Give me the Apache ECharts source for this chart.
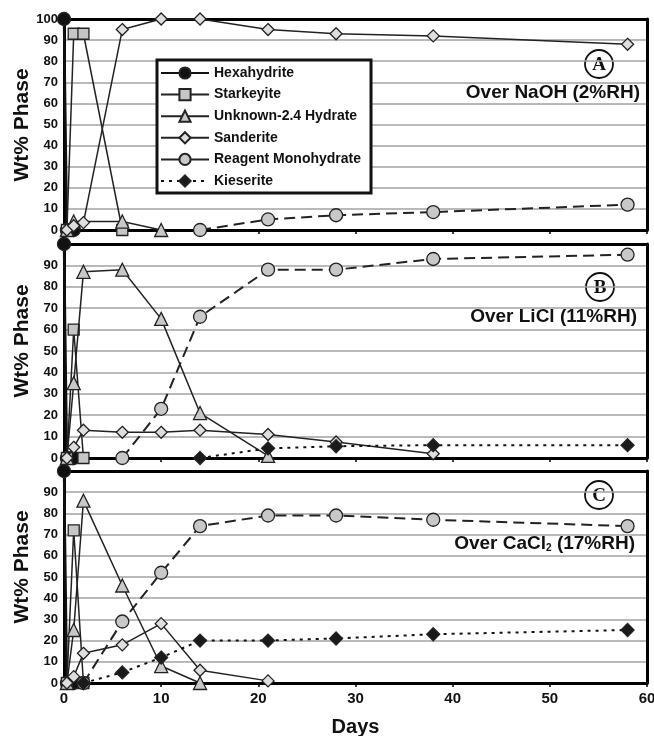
<!DOCTYPE html>
<html lang="en">
<head>
  <meta charset="UTF-8">
  <title>Wt% Phase vs Days</title>
  <style>
    html, body { margin: 0; padding: 0; background: #fff; }
    #chart { width: 654px; height: 736px; }
  </style>
</head>
<body>
<div id="chart"></div>
<script src="https://cdn.jsdelivr.net/npm/echarts@6/dist/echarts.min.js"></script>
<script>
  const names = ['Hexahydrite', 'Starkeyite', 'Unknown-2.4 Hydrate', 'Sanderite', 'Reagent Monohydrate', 'Kieserite'];

  // panel A - over NaOH (2%RH)
  const hexaA = [[0, 100], [0.3, 0], [1, 0]];
  const starkA = [[0.3, 0], [1, 93], [2, 93], [6, 0]];
  const unknownA = [[0.3, 0], [1, 4], [6, 4], [10, 0]];
  const sandA = [[0.3, 0], [1, 2], [2, 3.5], [6, 95], [10, 100], [14, 100], [21, 95], [28, 93], [38, 92], [58, 88]];
  const reagentA = [[14, 0], [21, 5], [28, 7], [38, 8.5], [58, 12]];
  const kieserA = [];

  // panel B - over LiCl (11%RH)
  const hexaB = [[0, 100], [0.3, 0], [1, 0]];
  const starkB = [[0.3, 0], [1, 60], [2, 0]];
  const unknownB = [[0.3, 0], [1, 35], [2, 87], [6, 88], [10, 65], [14, 21], [21, 1]];
  const sandB = [[0.3, 0], [1, 5], [2, 13], [6, 12], [10, 12], [14, 13], [21, 11], [28, 7.5], [38, 2]];
  const reagentB = [[6, 0], [10, 23], [14, 66], [21, 88], [28, 88], [38, 93], [58, 95]];
  const kieserB = [[14, 0], [21, 4.5], [28, 5.5], [38, 6], [58, 6]];

  // panel C - over CaCl2 (17%RH)
  const hexaC = [[0, 100], [0.3, 0], [1, 0]];
  const starkC = [[0.3, 0], [1, 72], [2, 0]];
  const unknownC = [[0.3, 0], [1, 25], [2, 86], [6, 46], [10, 8], [14, 0]];
  const sandC = [[0.3, 0], [1, 3], [2, 14], [6, 18], [10, 28], [14, 6], [21, 1]];
  const reagentC = [[2, 0], [6, 29], [10, 52], [14, 74], [21, 79], [28, 79], [38, 77], [58, 74]];
  const kieserC = [[2, 0], [6, 5], [10, 12], [14, 20], [21, 20], [28, 21], [38, 23], [58, 25]];

  const panels = [
    [hexaA, starkA, unknownA, sandA, reagentA, kieserA],
    [hexaB, starkB, unknownB, sandB, reagentB, kieserB],
    [hexaC, starkC, unknownC, sandC, reagentC, kieserC]
  ];

  // marker / line look for each phase
  const looks = [
    { symbol: 'circle', size: 13, fill: '#111', line: { color: '#111', width: 2.5, type: 'solid' } },
    { symbol: 'rect', size: 11, fill: '#c6c6c6', line: { color: '#222', width: 1.5, type: 'solid' } },
    { symbol: 'triangle', size: 13, fill: '#c8c8c8', line: { color: '#222', width: 1.5, type: 'solid' } },
    { symbol: 'diamond', size: 12, fill: '#dedede', line: { color: '#222', width: 1.5, type: 'solid' } },
    { symbol: 'circle', size: 13, fill: '#c8c8c8', line: { color: '#222', width: 2, type: [11, 6] } },
    { symbol: 'diamond', size: 13, fill: '#1a1a1a', line: { color: '#111', width: 2, type: [3, 5] } }
  ];

  const font = 'Liberation Sans, Arial, sans-serif';
  const grids = [
    { left: 64, right: 7, top: 19, height: 211 },
    { left: 64, right: 7, top: 244, height: 214 },
    { left: 64, right: 7, top: 471, height: 212 }
  ];
  const titleY = [125, 341, 567];

  const series = [];
  panels.forEach(function (sets, p) {
    sets.forEach(function (data, i) {
      const lk = looks[i];
      series.push({
        name: names[i],
        type: 'line',
        xAxisIndex: p,
        yAxisIndex: p,
        data: data,
        clip: false,
        symbol: lk.symbol,
        symbolSize: lk.size,
        itemStyle: { color: lk.fill, borderColor: '#222', borderWidth: 1.3 },
        lineStyle: lk.line,
        emphasis: { disabled: true },
        z: 4 + i
      });
    });
  });

  const frameLine = { show: true, onZero: false, lineStyle: { color: '#000', width: 3 } };

  const xAxes = grids.map(function (g, p) {
    return {
      type: 'value', gridIndex: p, min: 0, max: 60, interval: 10,
      axisLine: frameLine,
      axisTick: { show: true, length: 4, lineStyle: { color: '#000', width: 1.5 } },
      axisLabel: { show: p === 2, fontFamily: font, fontWeight: 'bold', fontSize: 15, color: '#111', margin: 8 },
      splitLine: { show: false },
      name: p === 2 ? 'Days' : '',
      nameLocation: 'middle',
      nameGap: 34,
      nameTextStyle: { fontFamily: font, fontWeight: 'bold', fontSize: 20, color: '#111' },
      z: 3
    };
  });
  // top edge of every box
  grids.forEach(function (g, p) {
    xAxes.push({
      type: 'value', gridIndex: p, position: 'top', min: 0, max: 60, interval: 10,
      axisLine: frameLine, axisTick: { show: false }, axisLabel: { show: false }, splitLine: { show: false }, z: 3
    });
  });

  const yAxes = grids.map(function (g, p) {
    return {
      type: 'value', gridIndex: p, min: 0, max: 100, interval: 10,
      axisLine: frameLine,
      axisTick: { show: false },
      axisLabel: {
        fontFamily: font, fontWeight: 'bold', fontSize: 13, color: '#111', margin: 6,
        formatter: function (v) { return (v === 100 && p > 0) ? '' : v; }
      },
      splitLine: { show: true, lineStyle: { color: '#a2a2a2', width: 1.5 } },
      z: 3
    };
  });
  // right edge of every box
  grids.forEach(function (g, p) {
    yAxes.push({
      type: 'value', gridIndex: p, position: 'right', min: 0, max: 100, interval: 10,
      axisLine: frameLine, axisTick: { show: false }, axisLabel: { show: false }, splitLine: { show: false }, z: 3
    });
  });

  function circled(letter, cx, cy) {
    return {
      type: 'group', x: cx, y: cy, z: 20,
      children: [
        { type: 'circle', shape: { cx: 0, cy: 0, r: 14 }, style: { fill: '#fff', stroke: '#111', lineWidth: 1.8 } },
        { type: 'text', x: 0, y: 1, style: { text: letter, font: 'bold 19px "Liberation Serif", serif', fill: '#111', align: 'center', verticalAlign: 'middle' } }
      ]
    };
  }

  function note(text, right, cy) {
    return {
      type: 'text', right: right, top: cy - 11, z: 20,
      style: { text: text, font: 'bold 19px "Liberation Sans", Arial, sans-serif', fill: '#111' }
    };
  }

  function yTitle(cy) {
    return {
      type: 'text', x: 22, y: cy, rotation: Math.PI / 2, z: 20,
      style: { text: 'Wt% Phase', font: 'bold 21px "Liberation Sans", Arial, sans-serif', fill: '#111', align: 'center', verticalAlign: 'middle' }
    };
  }

  const option = {
    backgroundColor: '#fff',
    animation: false,
    grid: grids.map(function (g) {
      return Object.assign({ show: true, borderWidth: 0, backgroundColor: '#fff', outerBoundsMode: 'none', containLabel: false }, g);
    }),
    xAxis: xAxes,
    yAxis: yAxes,
    legend: {
      orient: 'vertical',
      left: 157,
      top: 60,
      padding: [6, 10, 5, 3],
      itemWidth: 48,
      itemHeight: 14,
      itemGap: 7.6,
      backgroundColor: '#fff',
      borderColor: '#111',
      borderWidth: 3,
      borderRadius: 0,
      selectedMode: false,
      textStyle: { fontFamily: font, fontWeight: 'bold', fontSize: 14, color: '#111' },
      data: names.map(function (n, i) {
        return i === 4 ? { name: n, lineStyle: { type: 'solid' } } : { name: n };
      }),
      z: 10
    },
    graphic: [
      yTitle(titleY[0]),
      yTitle(titleY[1]),
      yTitle(titleY[2]),
      circled('A', 599, 64),
      circled('B', 600, 287),
      circled('C', 599, 495),
      note('Over NaOH (2%RH)', 14, 94),
      note('Over LiCl (11%RH)', 17, 318),
      {
        type: 'text', right: 19, top: 534, z: 20,
        style: {
          text: 'Over CaCl{s|2} (17%RH)',
          font: 'bold 19px "Liberation Sans", Arial, sans-serif',
          fill: '#111',
          rich: { s: { font: 'bold 10px "Liberation Sans", Arial, sans-serif', fill: '#111', padding: [10, 0, 0, 0] } }
        }
      }
    ],
    series: series
  };

  const chart = echarts.init(document.getElementById('chart'));
  chart.setOption(option);
</script>
</body>
</html>
